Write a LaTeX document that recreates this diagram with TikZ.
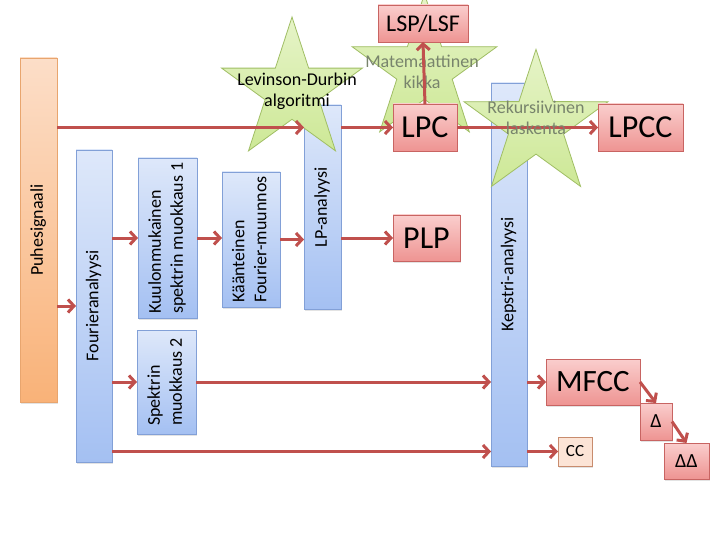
\documentclass[tikz,border=0pt]{standalone}
\usepackage{fontspec}
\setmainfont{Carlito}
\usepackage{graphicx}
\usetikzlibrary{arrows.meta,shadows,calc}
\definecolor{arrred}{RGB}{192,80,77}
\definecolor{redtop}{RGB}{250,206,205}
\definecolor{redbot}{RGB}{238,148,146}
\definecolor{redline}{RGB}{200,100,98}
\definecolor{bluetop}{RGB}{222,232,250}
\definecolor{bluebot}{RGB}{164,192,242}
\definecolor{blueline}{RGB}{130,160,215}
\definecolor{orgtop}{RGB}{252,222,200}
\definecolor{orgbot}{RGB}{249,178,120}
\definecolor{orgline}{RGB}{232,165,110}
\definecolor{startop}{RGB}{230,244,200}
\definecolor{starbot}{RGB}{205,232,150}
\definecolor{starline}{RGB}{160,190,100}
\definecolor{stargray}{RGB}{120,132,108}
\definecolor{ccfill}{RGB}{252,228,214}
\definecolor{ccline}{RGB}{200,140,110}
\newcommand\vtext[1]{\rotatebox{90}{\begin{tabular}{@{}l@{}}#1\end{tabular}}}
\begin{document}
\begin{tikzpicture}[x=1pt,y=-1pt,
  base/.style={inner sep=0pt, outer sep=0pt, line width=0.8pt,
    drop shadow={shadow xshift=1.2pt,shadow yshift=-1.5pt,opacity=0.22}},
  bluebox/.style={base, draw=blueline, top color=bluetop, bottom color=bluebot,
    font=\fontsize{18}{22}\selectfont},
  orgbox/.style={base, draw=orgline, top color=orgtop, bottom color=orgbot,
    font=\fontsize{18}{22}\selectfont},
  redbox/.style={base, draw=redline, top color=redtop, bottom color=redbot},
  ccbox/.style={base, draw=ccline, fill=ccfill},
  starsty/.style={draw=starline, line width=0.8pt, top color=startop, bottom color=starbot},
  startext/.style={align=center, font=\fontsize{18}{21}\selectfont, inner sep=0pt},
  arr/.style={draw=arrred, line width=3pt, -{Straight Barb[length=6pt,width=13pt]}}
]
\useasboundingbox[fill=white] (0,0) rectangle (720,540);

% LP-analyysi box (below the Levinson-Durbin star)
\node[bluebox, minimum width=37pt, minimum height=204pt] (lpana) at (322.5,207) {\vtext{LP-analyysi}};
% Levinson-Durbin star
\draw[starsty] (292,91) +(-90:74) -- +(-54:28.3) -- +(-18:74) -- +(18:28.3) -- +(54:74)
  -- +(90:28.3) -- +(126:74) -- +(162:28.3) -- +(198:74) -- +(234:28.3) -- cycle;
% Matemaattinen kikka star
\draw[starsty] (424.5,70.2) +(-90:76.2) -- +(-54:29.1) -- +(-18:76.2) -- +(18:29.1) -- +(54:76.2)
  -- +(90:29.1) -- +(126:76.2) -- +(162:29.1) -- +(198:76.2) -- +(234:29.1) -- cycle;
\node[startext, text=stargray] (mk) at (422,72) {Matemaattinen\\kikka};

% Kepstri box
\node[bluebox, minimum width=36pt, minimum height=383pt] (kep) at (509,274.5) {\vtext{Kepstri-analyysi}};
% Rekursiivinen star
\draw[starsty] (536,125.1) +(-90:75.8) -- +(-54:29) -- +(-18:75.8) -- +(18:29) -- +(54:75.8)
  -- +(90:29) -- +(126:75.8) -- +(162:29) -- +(198:75.8) -- +(234:29) -- cycle;

% blue / orange boxes
\node[orgbox, minimum width=37pt, minimum height=344pt] (puhe) at (38.5,230) {\vtext{Puhesignaali}};
\node[bluebox, minimum width=36pt, minimum height=312pt] (four) at (94,306) {\vtext{Fourieranalyysi}};
\node[bluebox, minimum width=59pt, minimum height=160pt] (kuul) at (167.5,238) {\vtext{Kuulonmukainen\\spektrin muokkaus 1}};
\node[bluebox, minimum width=59pt, minimum height=104pt] (spek) at (166.5,382) {\vtext{Spektrin\\muokkaus 2}};
\node[bluebox, minimum width=58pt, minimum height=135pt] (kaan) at (251,239.5) {\vtext{Käänteinen\\Fourier-muunnos}};

% red boxes
\node[redbox, minimum width=64pt, minimum height=47pt, font=\fontsize{32}{36}\selectfont] (lpc) at (425,127.5) {LPC};
\node[redbox, minimum width=90pt, minimum height=37pt, font=\fontsize{24}{28}\selectfont] (lsp) at (423,23.5) {LSP/LSF};
\node[redbox, minimum width=85pt, minimum height=47pt, font=\fontsize{32}{36}\selectfont] (lpcc) at (640.5,127.5) {LPCC};
\node[redbox, minimum width=67pt, minimum height=46pt, font=\fontsize{32}{36}\selectfont] (plp) at (426.5,238) {PLP};
\node[redbox, minimum width=94pt, minimum height=46pt, font=\fontsize{31}{35}\selectfont] (mfcc) at (593,382) {MFCC};
\node[redbox, minimum width=32pt, minimum height=37pt, font=\fontsize{20}{24}\selectfont] (delta) at (656,421.5) {Δ};
\node[redbox, minimum width=45pt, minimum height=36pt, font=\fontsize{20}{24}\selectfont] (dd) at (686.5,461) {ΔΔ};
\node[ccbox, minimum width=34pt, minimum height=29pt, font=\fontsize{17}{20}\selectfont] (cc) at (575,451.5) {CC};

% arrows
\draw[arr] (puhe.east |- lpc) -- (lpana.west |- lpc);
\draw[arr] (lpana.east |- lpc) -- (lpc.west);
\draw[arr] (lpc.east) -- (lpcc.west);
\draw[arr] (lpc.north) -- (lsp.south);
\draw[arr] (puhe.east |- four) -- (four.west);
\draw[arr] (four.east |- kuul) -- (kuul.west);
\draw[arr] (kuul.east) -- (kaan.west |- kuul);
\draw[arr] (kaan.east) -- (lpana.west |- kaan);
\draw[arr] (lpana.east |- plp) -- (plp.west);
\draw[arr] (four.east |- spek) -- (spek.west);
\draw[arr] (spek.east) -- (kep.west |- spek);
\draw[arr] (kep.east |- mfcc) -- (mfcc.west);
\draw[arr] (four.east |- cc) -- (kep.west |- cc);
\draw[arr] (kep.east |- cc) -- (cc.west);
\draw[arr] (mfcc.east) -- (delta.north);
\draw[arr] (delta.east) -- (dd.north);

% star texts on top
\node[startext] (ld) at (297,91) {Levinson-Durbin\\algoritmi};
\node[startext, text=stargray] (rl) at (536,118) {Rekursiivinen\\laskenta};
\end{tikzpicture}
\end{document}
